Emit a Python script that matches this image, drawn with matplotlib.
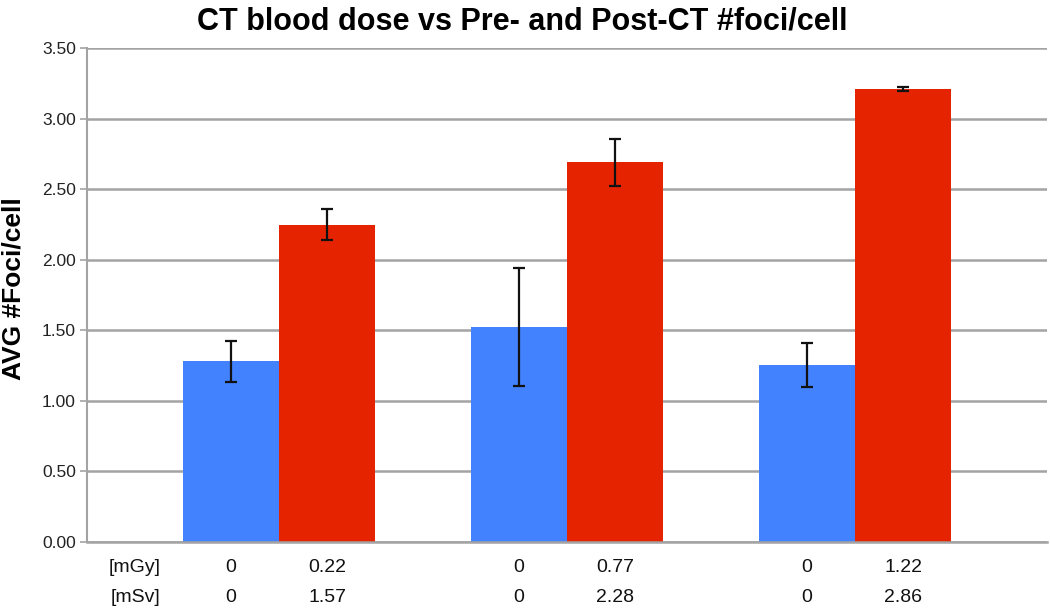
import matplotlib
matplotlib.use("Agg")
import matplotlib.pyplot as plt

plt.rcParams['font.family'] = ['Liberation Sans', 'DejaVu Sans']

# Data
mgy_labels = ['0', '0.22', '0', '0.77', '0', '1.22']
msv_labels = ['0', '1.57', '0', '2.28', '0', '2.86']
pre_ct = [1.28, 1.525, 1.255]
pre_err = [0.145, 0.42, 0.158]
post_ct = [2.25, 2.69, 3.21]
post_err = [0.113, 0.17, 0.015]
yticks = [0.0, 0.5, 1.0, 1.5, 2.0, 2.5, 3.0, 3.5]

blue = '#4382FF'
red = '#E62300'
grid = '#A3A3A3'

fig = plt.figure(figsize=(10.5, 6.13), dpi=100)
ax = fig.add_axes([87/1050, 1-541.7/613, (1047-87)/1050, (541.7-48.3)/613])

n = len(pre_ct)
pre_x = [3*i + 1 for i in range(n)]
post_x = [3*i + 2 for i in range(n)]

ax.bar(pre_x, pre_ct, width=1.0, color=blue, zorder=2)
ax.bar(post_x, post_ct, width=1.0, color=red, zorder=2)
ax.errorbar(pre_x, pre_ct, yerr=pre_err, fmt='none', ecolor='#111111',
            elinewidth=1.6, capsize=4, capthick=1.6, zorder=3)
ax.errorbar(post_x, post_ct, yerr=post_err, fmt='none', ecolor='#111111',
            elinewidth=1.6, capsize=4, capthick=1.6, zorder=3)

ax.set_xlim(-0.5, 9.5)
ax.set_ylim(0, 3.5)
ax.set_yticks(yticks)
ax.set_yticklabels([f'{v:.2f}' for v in yticks], fontsize=12.5, color='#222222')
ax.yaxis.grid(True, color=grid, linewidth=1.8, zorder=0)
ax.set_axisbelow(True)
ax.tick_params(axis='y', length=5, color=grid, width=1.2, pad=3)
ax.set_xticks([])
for s in ['top', 'right']:
    ax.spines[s].set_visible(False)
ax.spines['left'].set_color(grid)
ax.spines['left'].set_linewidth(1.5)
ax.spines['bottom'].set_color(grid)
ax.spines['bottom'].set_linewidth(1.8)

# bottom table-like labels
xs_all = sorted(pre_x + post_x)
trans = ax.get_xaxis_transform()
row1_y = -(567-541.7)/(541.7-48.3)
row2_y = -(598-541.7)/(541.7-48.3)
fs = 14
ax.text(0, row1_y, '[mGy]', transform=trans, ha='center', va='center', fontsize=fs, color='#111111')
ax.text(0, row2_y, '[mSv]', transform=trans, ha='center', va='center', fontsize=fs, color='#111111')
for x, a, b in zip(xs_all, mgy_labels, msv_labels):
    ax.text(x, row1_y, a, transform=trans, ha='center', va='center', fontsize=fs, color='#111111')
    ax.text(x, row2_y, b, transform=trans, ha='center', va='center', fontsize=fs, color='#111111')

fig.text(14/1050, 1-(197+380)/2/613, 'AVG #Foci/cell', rotation=90,
         ha='center', va='center', fontsize=19, fontweight='bold')
fig.text(522/1050, 1-21/613, 'CT blood dose vs Pre- and Post-CT #foci/cell',
         ha='center', va='center', fontsize=22, fontweight='bold')

fig.savefig('out.png', dpi=100)
